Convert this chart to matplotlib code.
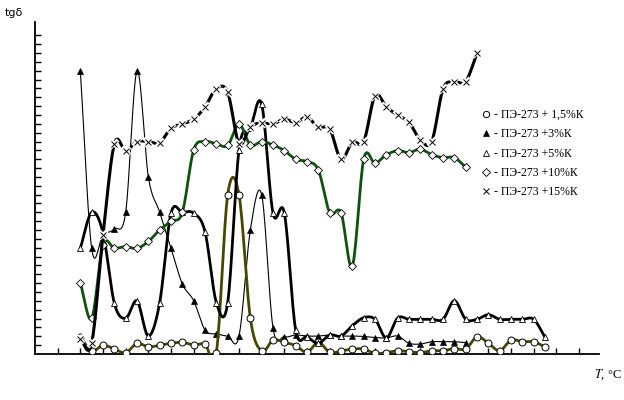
import numpy as np
import matplotlib
matplotlib.use("Agg")
import matplotlib.pyplot as plt
from matplotlib.lines import Line2D

plt.rcParams['font.family'] = ['Liberation Serif', 'DejaVu Serif']
plt.rcParams['mathtext.fontset'] = 'stix'

# temperature positions (axis tick units), points every half tick from 2
x_first = 2.0
x_step = 0.5

labels = ["- ПЭ-273 + 1,5%К", "- ПЭ-273 +3%К", "- ПЭ-273 +5%К",
          "- ПЭ-273 +10%К", "- ПЭ-273 +15%К"]

k15 = [1.95, 0.34, 0.99, 0.56, 0.14, 1.19, 0.81, 0.99, 1.21, 1.32, 1.02, 1.13,
       0.15, 17.97, 17.97, 4.03, 0.34, 1.58, 1.32, 0.94, 0.19, 1.32, 0.19, 0.34,
       0.56, 0.56, 0.06, 0.15, 0.37, 0.26, 0.15, 0.37, 0.37, 0.62, 0.56, 1.95,
       1.21, 0.37, 1.58, 1.39, 1.39, 0.79]
k3 = [31.98, 11.94, 13.45, 14.12, 16.01, 31.98, 20.0, 16.01, 11.94, 7.91, 6.02,
      2.71, 2.26, 2.03, 2.03, 14.01, 17.97, 2.94, 1.95, 2.15, 2.03, 2.03, 2.15,
      2.03, 2.03, 1.98, 1.86, 1.81, 2.03, 1.21, 1.13, 1.39, 1.39, 1.39, 1.28]
k5 = [11.94, 16.01, 13.67, 5.73, 4.03, 5.99, 2.03, 5.80, 15.90, 16.01, 15.90,
      13.82, 5.80, 5.80, 23.05, 25.54, 28.21, 15.90, 15.90, 2.71, 1.95, 1.21,
      2.15, 2.03, 3.20, 4.10, 3.92, 1.81, 4.07, 3.92, 3.92, 3.92, 3.92, 6.02,
      3.92, 3.92, 4.44, 3.92, 3.92, 3.92, 3.92, 1.89]
k10 = [7.99, 4.03, 12.32, 11.94, 12.12, 11.94, 12.71, 14.01, 15.0, 16.0, 23.05,
       23.99, 23.73, 23.56, 25.95, 23.62, 23.99, 23.62, 22.97, 22.0, 21.73, 20.79,
       15.97, 15.97, 9.94, 22.0, 21.55, 22.49, 22.97, 22.75, 23.13, 22.52, 22.18,
       22.18, 21.10]
k15p = [1.64, 1.21, 13.45, 23.73, 22.97, 23.99, 23.99, 23.88, 25.50, 25.99, 26.52,
        27.91, 29.98, 29.55, 23.76, 25.65, 26.10, 25.99, 26.52, 26.14, 26.75, 25.59,
        25.42, 22.0, 23.93, 23.99, 29.19, 27.91, 26.97, 26.18, 24.18, 23.99, 29.94,
        30.77, 30.77, 33.98]


def xs_for(vals):
    return x_first + x_step * np.arange(len(vals))


def catmull(x, y, n=16):
    x = np.asarray(x, float)
    y = np.asarray(y, float)
    px = np.concatenate([[2 * x[0] - x[1]], x, [2 * x[-1] - x[-2]]])
    py = np.concatenate([[2 * y[0] - y[1]], y, [2 * y[-1] - y[-2]]])
    t = np.linspace(0, 1, n, endpoint=False)
    ox, oy = [], []
    for i in range(1, len(px) - 2):
        for p, o in ((px, ox), (py, oy)):
            p0, p1, p2, p3 = p[i - 1], p[i], p[i + 1], p[i + 2]
            o.extend(0.5 * (2 * p1 + (-p0 + p2) * t
                            + (2 * p0 - 5 * p1 + 4 * p2 - p3) * t ** 2
                            + (-p0 + 3 * p1 - 3 * p2 + p3) * t ** 3))
    ox.append(x[-1])
    oy.append(y[-1])
    return np.array(ox), np.array(oy)


fig = plt.figure(figsize=(6.24, 4.0), dpi=100)
ax = fig.add_axes([35 / 624, 46 / 400, 564 / 624, 332 / 400])
ax.set_xlim(0, 24.88)
ax.set_ylim(0, 37.5)

olive = '#474700'
green = '#0d520d'

series = [
    (k15, olive, 2.0, dict(marker='o', ms=5, mfc='white', mec='black', mew=0.7), 3),
    (k3, 'black', 0.8, dict(marker='^', ms=4.2, mfc='black', mec='black', mew=0.5), 2),
    (k5, 'black', 2.0, dict(marker='^', ms=4.2, mfc='white', mec='black', mew=0.6), 4),
    (k10, green, 2.0, dict(marker='D', ms=3.6, mfc='white', mec='black', mew=0.6), 5),
]

for vals, col, lw, mk, z in series:
    x = xs_for(vals)
    sx, sy = catmull(x, vals)
    ax.plot(sx, sy, color=col, lw=lw, zorder=z, solid_capstyle='round')
    ax.plot(x, vals, ls='none', zorder=z + 0.5, **mk)

# 15% series: thick black line broken at the cross markers
x = xs_for(k15p)
sx, sy = catmull(x, k15p)
ax.plot(sx, sy, color='black', lw=2.2, zorder=6)
ax.plot(x, k15p, ls='none', marker='x', ms=6, mec='white', mew=3.0, zorder=6.5)
ax.plot(x, k15p, ls='none', marker='x', ms=5, mec='black', mew=0.7, zorder=7)

for s in ('top', 'right'):
    ax.spines[s].set_visible(False)
for s in ('left', 'bottom'):
    ax.spines[s].set_linewidth(1.3)
ax.set_xticks(np.arange(1, 25))
ax.set_yticks(np.arange(1, 37))
ax.tick_params(direction='in', length=4, width=1.0, labelbottom=False, labelleft=False)

handles = [
    Line2D([], [], ls='none', marker='o', ms=4.5, mfc='white', mec='black', mew=0.7),
    Line2D([], [], ls='none', marker='^', ms=4.2, mfc='black', mec='black', mew=0.5),
    Line2D([], [], ls='none', marker='^', ms=4.2, mfc='white', mec='black', mew=0.6),
    Line2D([], [], ls='none', marker='D', ms=3.6, mfc='white', mec='black', mew=0.6),
    Line2D([], [], ls='none', marker='x', ms=5, mec='black', mew=0.7),
]
fig.legend(handles, labels, loc='upper left', bbox_to_anchor=(482 / 624, 1 - 109 / 400),
           frameon=False, fontsize=8.5, handlelength=0.7, handletextpad=0.3,
           labelspacing=0.62, borderaxespad=0, borderpad=0)

fig.text(5 / 624, 1 - 13 / 400, 'tgδ', fontsize=8, family='DejaVu Sans', va='center')
fig.text(594 / 624, 1 - 375 / 400, r'$T$, °C', fontsize=9, va='center')

fig.savefig('out.png', dpi=100)
